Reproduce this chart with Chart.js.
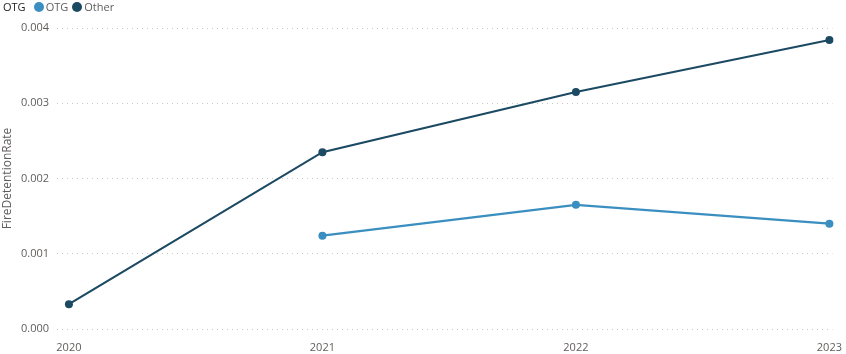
<!DOCTYPE html>
<html>
<head>
<meta charset="utf-8">
<script src="https://cdn.jsdelivr.net/npm/chart.js@4.4.0/dist/chart.umd.min.js"></script>
<style>
  html, body { margin: 0; padding: 0; background: #fff; }
  #wrap { position: relative; width: 846px; height: 354px; }
  #legend {
    position: absolute; left: 3px; top: 0; height: 13px;
    font: 11px "Segoe UI", "Open Sans", sans-serif; color: #252423;
    display: flex; align-items: center; white-space: nowrap;
  }
  #legend .ttl { margin-right: 8px; }
  #legend .item { display: flex; align-items: center; margin-right: 4px; color: #605e5c; }
  #legend .dot { width: 10px; height: 10px; border-radius: 50%; margin-right: 2px; }
</style>
</head>
<body>
<div id="wrap">
  <div id="legend"></div>
  <canvas id="c" width="846" height="354"></canvas>
</div>
<script>
const years = [2020, 2021, 2022, 2023];
const otgValues = [null, 0.00124, 0.00165, 0.00140];
const otherValues = [0.00033, 0.00235, 0.00315, 0.00384];
const seriesNames = ["OTG", "Other"];
const seriesColors = ["#3a8fc0", "#1c4a63"];
const yTicks = [0, 0.001, 0.002, 0.003, 0.004];

const legendEl = document.getElementById("legend");
legendEl.innerHTML = `<span class="ttl">OTG</span>` + seriesNames.map((n, i) =>
  `<span class="item"><span class="dot" style="background:${seriesColors[i]}"></span>${n}</span>`
).join("");

function toPoints(vals) {
  return years.map((y, i) => ({ x: y, y: vals[i] })).filter((p) => p.y !== null);
}

const font = { family: "'Segoe UI', 'Open Sans', sans-serif", size: 11 };

function lineSet(i, vals) {
  return {
    label: seriesNames[i],
    data: toPoints(vals),
    borderColor: seriesColors[i],
    backgroundColor: seriesColors[i],
    borderWidth: 2.2,
    pointRadius: 4,
    pointBorderWidth: 0,
    pointHoverRadius: 4,
    clip: false,
  };
}

new Chart(document.getElementById("c"), {
  type: "line",
  data: {
    datasets: [lineSet(0, otgValues), lineSet(1, otherValues)],
  },
  options: {
    responsive: false,
    animation: false,
    layout: { padding: { top: 28, right: 4, left: 0, bottom: 0 } },
    plugins: { legend: { display: false }, tooltip: { enabled: false } },
    scales: {
      x: {
        type: "linear",
        min: 2019.953,
        max: 2023.012,
        afterBuildTicks: (s) => { s.ticks = years.map((v) => ({ value: v })); },
        afterFit: (s) => { s.height = 25; },
        grid: { display: false },
        border: { display: false },
        ticks: {
          color: "#605e5c",
          font,
          padding: 4,
          maxRotation: 0,
          callback: (v) => String(v),
        },
      },
      y: {
        min: 0,
        max: 0.004,
        afterBuildTicks: (s) => { s.ticks = yTicks.map((v) => ({ value: v })); },
        afterFit: (s) => { s.width = 57; },
        grid: {
          color: "#c8c6c4",
          drawTicks: false,
        },
        border: { display: false, dash: [1, 4] },
        ticks: {
          color: "#605e5c",
          font,
          padding: 8,
          callback: (v) => v.toFixed(3),
        },
        title: {
          display: true,
          text: "FireDetentionRate",
          color: "#605e5c",
          font: { family: font.family, size: 12 },
          padding: 0,
        },
      },
    },
  },
});
</script>
</body>
</html>
